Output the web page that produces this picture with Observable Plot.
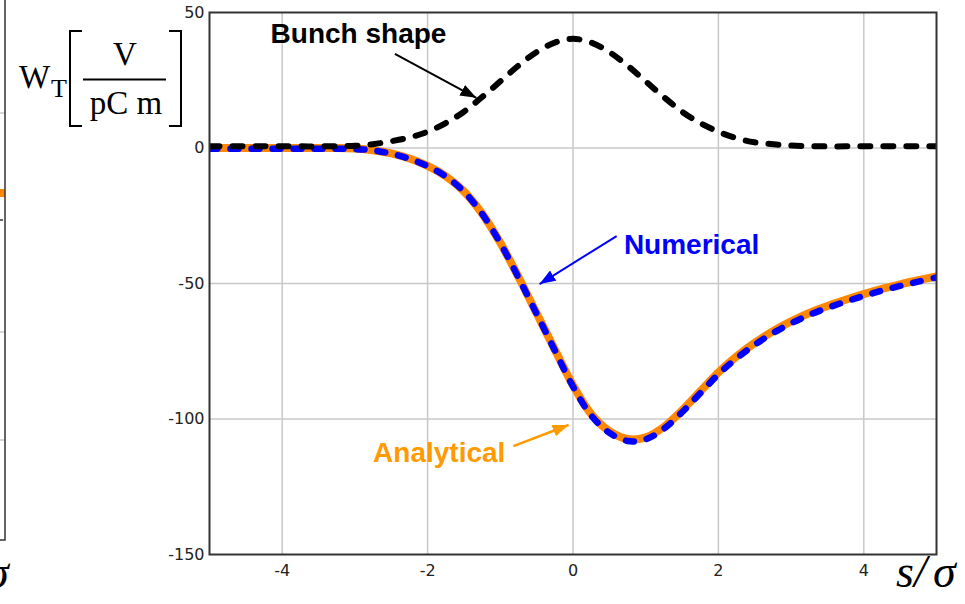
<!DOCTYPE html>
<html>
<head>
<meta charset="utf-8">
<script src="https://cdn.jsdelivr.net/npm/d3@7"></script>
<script src="https://cdn.jsdelivr.net/npm/@observablehq/plot@0.6"></script>
<style>
  html, body { margin: 0; padding: 0; background: #fff; }
  #wrap { position: relative; width: 965px; height: 604px; overflow: hidden; background: #fff; }
  #chart { position: absolute; left: 0; top: 0; }
  #labels { position: absolute; left: 0; top: 0; pointer-events: none; }
</style>
</head>
<body>
<div id="wrap">
  <div id="chart"></div>
  <svg id="labels" width="965" height="604" xmlns="http://www.w3.org/2000/svg">
    <!-- edge of the neighbouring panel -->
    <g fill="none">
      <line x1="0" y1="113" x2="5" y2="113" stroke="#c8c8c8" stroke-width="1.5"/>
      <line x1="0" y1="332" x2="5" y2="332" stroke="#c8c8c8" stroke-width="1.5"/>
      <line x1="0" y1="440" x2="5" y2="440" stroke="#c8c8c8" stroke-width="1.5"/>
      <line x1="0" y1="220" x2="3" y2="220" stroke="#333" stroke-width="1.5"/>
      <rect x="0" y="189" width="5" height="8" fill="#ff8800"/>
      <polyline points="5,0 5,540 0,540" stroke="#333" stroke-width="1.5"/>
    </g>
    <text x="-14" y="588" font-family="Liberation Serif" font-style="italic" font-size="46" fill="#000">σ</text>

    <!-- y-axis quantity and unit -->
    <g font-family="Liberation Serif" fill="#000">
      <text x="19" y="88" font-size="33">W</text>
      <text x="51" y="97" font-size="26">T</text>
      <text x="125" y="65" font-size="33" text-anchor="middle">V</text>
      <text x="126" y="114" font-size="33" text-anchor="middle">pC m</text>
    </g>
    <g stroke="#000" stroke-width="2" fill="none">
      <polyline points="82,31 70,31 70,126 82,126"/>
      <polyline points="169,31 181,31 181,126 169,126"/>
      <line x1="83" y1="79.5" x2="166" y2="79.5"/>
    </g>

    <!-- x-axis quantity -->
    <g font-family="Liberation Serif" font-style="italic" font-size="46" fill="#000">
      <text x="896" y="587">s</text>
      <text x="914" y="587">/</text>
      <text x="933" y="587">σ</text>
    </g>
  </svg>
</div>
<script>
// Longitudinal position in units of the bunch length
const s = [-5, -4.75, -4.5, -4.25, -4, -3.75, -3.5, -3.25, -3, -2.75, -2.5, -2.25, -2, -1.75, -1.5, -1.25, -1, -0.75, -0.5, -0.25,
           0, 0.25, 0.5, 0.75, 1, 1.25, 1.5, 1.75, 2, 2.25, 2.5, 2.75, 3, 3.25, 3.5, 3.75, 4, 4.25, 4.5, 4.75, 5];

// Transverse wake potential W_T [V/(pC m)]
const wakeAnalytical = [0, 0, 0, 0, 0, 0, 0, 0, -0.2, -0.8, -2.0, -3.9, -6.6, -10.4, -16.0, -24.2, -35.0, -47.6, -61.0, -74.4,
                        -87.6, -98.2, -104.5, -107.4, -106.8, -102.9, -96.8, -89.8, -82.8, -76.9, -71.9, -67.6, -64.0, -60.9, -58.3, -56.0, -53.9, -52.0, -50.3, -48.8, -47.4];
const wakeNumerical  = [-0.3, -0.3, -0.3, -0.3, -0.3, -0.3, -0.3, -0.3, -0.4, -0.9, -2.1, -4.0, -6.7, -10.5, -16.1, -24.3, -35.1, -47.8, -61.2, -74.7,
                        -88.0, -98.7, -105.1, -108.1, -107.5, -103.6, -97.5, -90.5, -83.5, -77.6, -72.6, -68.3, -64.7, -61.6, -59.0, -56.7, -54.6, -52.6, -50.9, -49.3, -47.8];

// Longitudinal bunch profile (arbitrary units, same axis)
const bunch = [0.6, 0.6, 0.6, 0.6, 0.6, 0.6, 0.6, 0.7, 0.8, 1.4, 2.5, 3.9, 6.0, 9.2, 13.4, 18.8, 24.6, 30.4, 35.4, 38.9,
               40.3, 38.9, 35.4, 30.4, 24.6, 18.8, 13.4, 9.2, 6.0, 3.6, 2.1, 1.4, 0.9, 0.7, 0.6, 0.6, 0.6, 0.6, 0.6, 0.6, 0.6];

const xTicks = [-4, -2, 0, 2, 4];
const yTicks = [50, 0, -50, -100, -150];
const yGrid = [0, -50, -100];

// Curve labels and their pointers
const noteText = ["Bunch shape", "Numerical", "Analytical"];
const noteColor = ["#000000", "#0000ff", "#ff9a00"];
const noteS = [-4.16, 0.70, -2.75];
const noteW = [42.2, -35.8, -112.4];
const arrowFromS = [-2.45, 0.60, -0.82];
const arrowFromW = [34.7, -32.5, -110];
const arrowToS = [-1.33, -0.46, -0.06];
const arrowToW = [18.5, -50.2, -102.2];

const rows = s.map((v, i) => ({s: v, analytical: wakeAnalytical[i], numerical: wakeNumerical[i], bunch: bunch[i]}));
const notes = noteText.map((t, i) => ({text: t, color: noteColor[i], s: noteS[i], w: noteW[i],
  s1: arrowFromS[i], w1: arrowFromW[i], s2: arrowToS[i], w2: arrowToW[i]}));

// Solid triangular arrowhead marker
function filledHead(color) {
  const ns = "http://www.w3.org/2000/svg";
  const m = document.createElementNS(ns, "marker");
  m.setAttribute("viewBox", "-16 -6 16 12");
  m.setAttribute("refX", "0");
  m.setAttribute("refY", "0");
  m.setAttribute("markerUnits", "userSpaceOnUse");
  m.setAttribute("markerWidth", "16");
  m.setAttribute("markerHeight", "12");
  m.setAttribute("orient", "auto");
  const p = document.createElementNS(ns, "path");
  p.setAttribute("d", "M-16,-6L0,0L-16,6Z");
  p.setAttribute("fill", color);
  p.setAttribute("stroke", "none");
  m.appendChild(p);
  return m;
}

const fmt = d => (d < 0 ? "-" : "") + Math.abs(d);

const chart = Plot.plot({
  width: 965,
  height: 604,
  marginLeft: 209,
  marginRight: 29,
  marginTop: 12,
  marginBottom: 50,
  style: {background: "transparent", fontFamily: "DejaVu Sans", fontSize: "16px", color: "#222", overflow: "visible"},
  x: {domain: [-5, 5]},
  y: {domain: [-150, 50]},
  marks: [
    Plot.gridX(xTicks, {stroke: "#c8c8c8", strokeOpacity: 1, strokeWidth: 1.5}),
    Plot.gridY(yGrid, {stroke: "#c8c8c8", strokeOpacity: 1, strokeWidth: 1.5}),
    Plot.axisX(xTicks, {tickSize: 0, tickPadding: 10, tickFormat: fmt, label: null, fontSize: 16}),
    Plot.axisY(yTicks, {tickSize: 0, tickPadding: 5, tickFormat: fmt, label: null, fontSize: 16}),
    Plot.line(rows, {x: "s", y: "analytical", stroke: "#ff8800", strokeWidth: 8, curve: "catmull-rom", clip: true}),
    Plot.line(rows, {x: "s", y: "numerical", stroke: "#0000ff", strokeWidth: 6.5, strokeDasharray: "8,13",
      strokeLinecap: "round", curve: "catmull-rom", clip: true}),
    Plot.line(rows, {x: "s", y: "bunch", stroke: "#000", strokeWidth: 6, strokeDasharray: "10,13",
      strokeLinecap: "round", curve: "catmull-rom", clip: true}),
    Plot.frame({stroke: "#333", strokeWidth: 2}),
    ...notes.map(n => Plot.link([n], {x1: "s1", y1: "w1", x2: "s2", y2: "w2", stroke: n.color,
      strokeWidth: n.text === "Analytical" ? 2.5 : 2, markerEnd: filledHead})),
    Plot.text(notes, {x: "s", y: "w", text: "text", fill: "color", textAnchor: "start",
      fontFamily: "Liberation Sans", fontWeight: "bold", fontSize: 28, letterSpacing: 0.5})
  ]
});

document.getElementById("chart").appendChild(chart);
</script>
</body>
</html>
